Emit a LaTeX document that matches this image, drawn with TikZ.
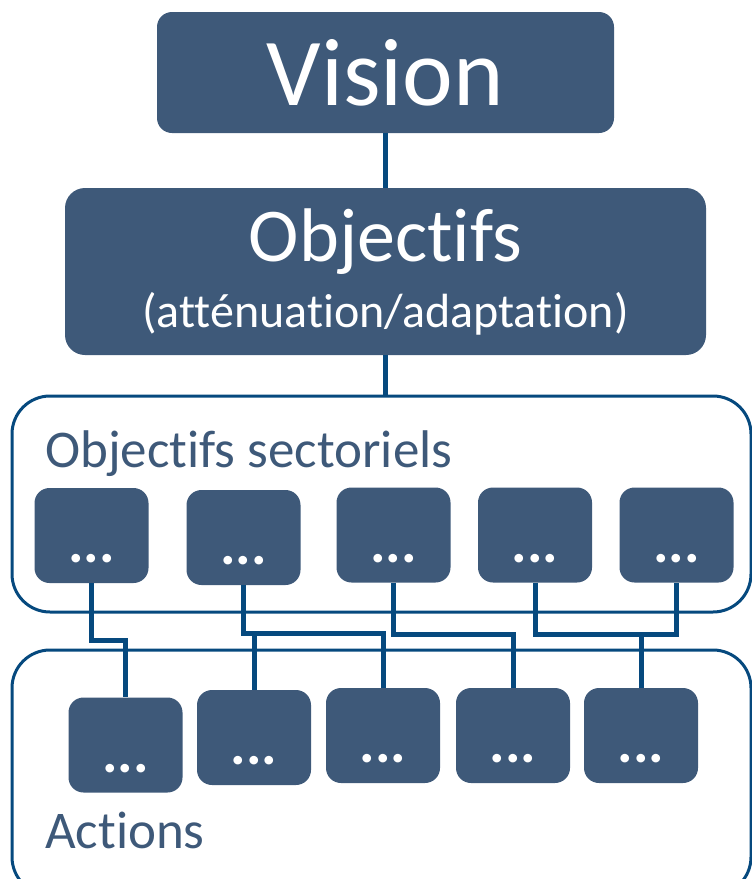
\documentclass[tikz,border=0pt]{standalone}
\usepackage{fontspec}
\setmainfont{Carlito}[Ligatures=NoCommon, RawFeature={-liga;-clig;-dlig;-calt}]
\usetikzlibrary{positioning}
\definecolor{boxblue}{RGB}{62,89,121}
\definecolor{linkblue}{RGB}{6,73,126}
\tikzset{
  x=1pt, y=-1pt,
  block/.style={fill=boxblue, text=white, rounded corners=15pt, inner sep=0pt},
  smallbox/.style={block, minimum width=114pt, minimum height=95pt,
    text height=54pt, text depth=0pt, font=\fontsize{58}{58}\selectfont\bfseries},
  frame/.style={draw=linkblue, line width=3pt, rounded corners=38pt, inner sep=0pt},
  framelabel/.style={text=boxblue, anchor=base west, inner sep=0pt,
    font=\fontsize{53}{53}\selectfont},
  link/.style={draw=linkblue, line width=5pt},
}

\begin{document}
\begin{tikzpicture}
      \useasboundingbox (0,0) rectangle (752,879);
      \clip (0,0) rectangle (752,879);

      \node[frame, minimum width=739pt, minimum height=216pt] (sect) at (381.5,504) {};
      \node[frame, minimum width=739pt, minimum height=245pt] (act)  at (381.5,772.5) {};
      \node[framelabel] (sectlabel) at (45,467) {Objectifs sectoriels};
      \node[framelabel] (actlabel)  at (45,848) {Actions};

      \node[block, minimum width=457pt, minimum height=121pt,
            font=\fontsize{96}{96}\selectfont] (vision) at (385.5,72.5) {Vision};
      \node[block, minimum width=641pt, minimum height=167pt, rounded corners=20pt,
            align=center, font=\fontsize{48}{66}\selectfont] (obj) at (385.5,271.5)
            {{\fontsize{76}{66}\selectfont Objectifs}\\(atténuation/adaptation)};

      \node[smallbox] (s1) at (91.5,535.5) {...};
      \node[smallbox] (s2) at (243.5,537.5) {...};
      \node[smallbox] (s3) at (393.5,535) {...};
      \node[smallbox] (s4) at (535,535) {...};
      \node[smallbox] (s5) at (676.5,535) {...};

      \node[smallbox] (a1) at (125.5,745) {...};
      \node[smallbox] (a2) at (254,737.5) {...};
      \node[smallbox] (a3) at (383,735.5) {...};
      \node[smallbox] (a4) at (513,735.5) {...};
      \node[smallbox] (a5) at (641,735.5) {...};

      \draw[link, line width=5.5pt] (vision) -- (obj);
      \draw[link, line width=5.5pt] (obj.south) -- (obj.south |- sect.north);
      \draw[link] (s1.south) -- ++(0,57) -| (a1.north);
      \draw[link] (s2.south) -- ++(0,48) coordinate (j2) -| (a3.north);
      \draw[link] (a2.north) -- (a2.north |- j2);
      \draw[link] (s3.south) -- ++(0,52) -| (a4.north);
      \draw[link] (s4.south) -- ++(0,52) coordinate (j4) -| (s5.south);
      \draw[link] (a5.north) -- (a5.north |- j4);
\end{tikzpicture}
\end{document}
